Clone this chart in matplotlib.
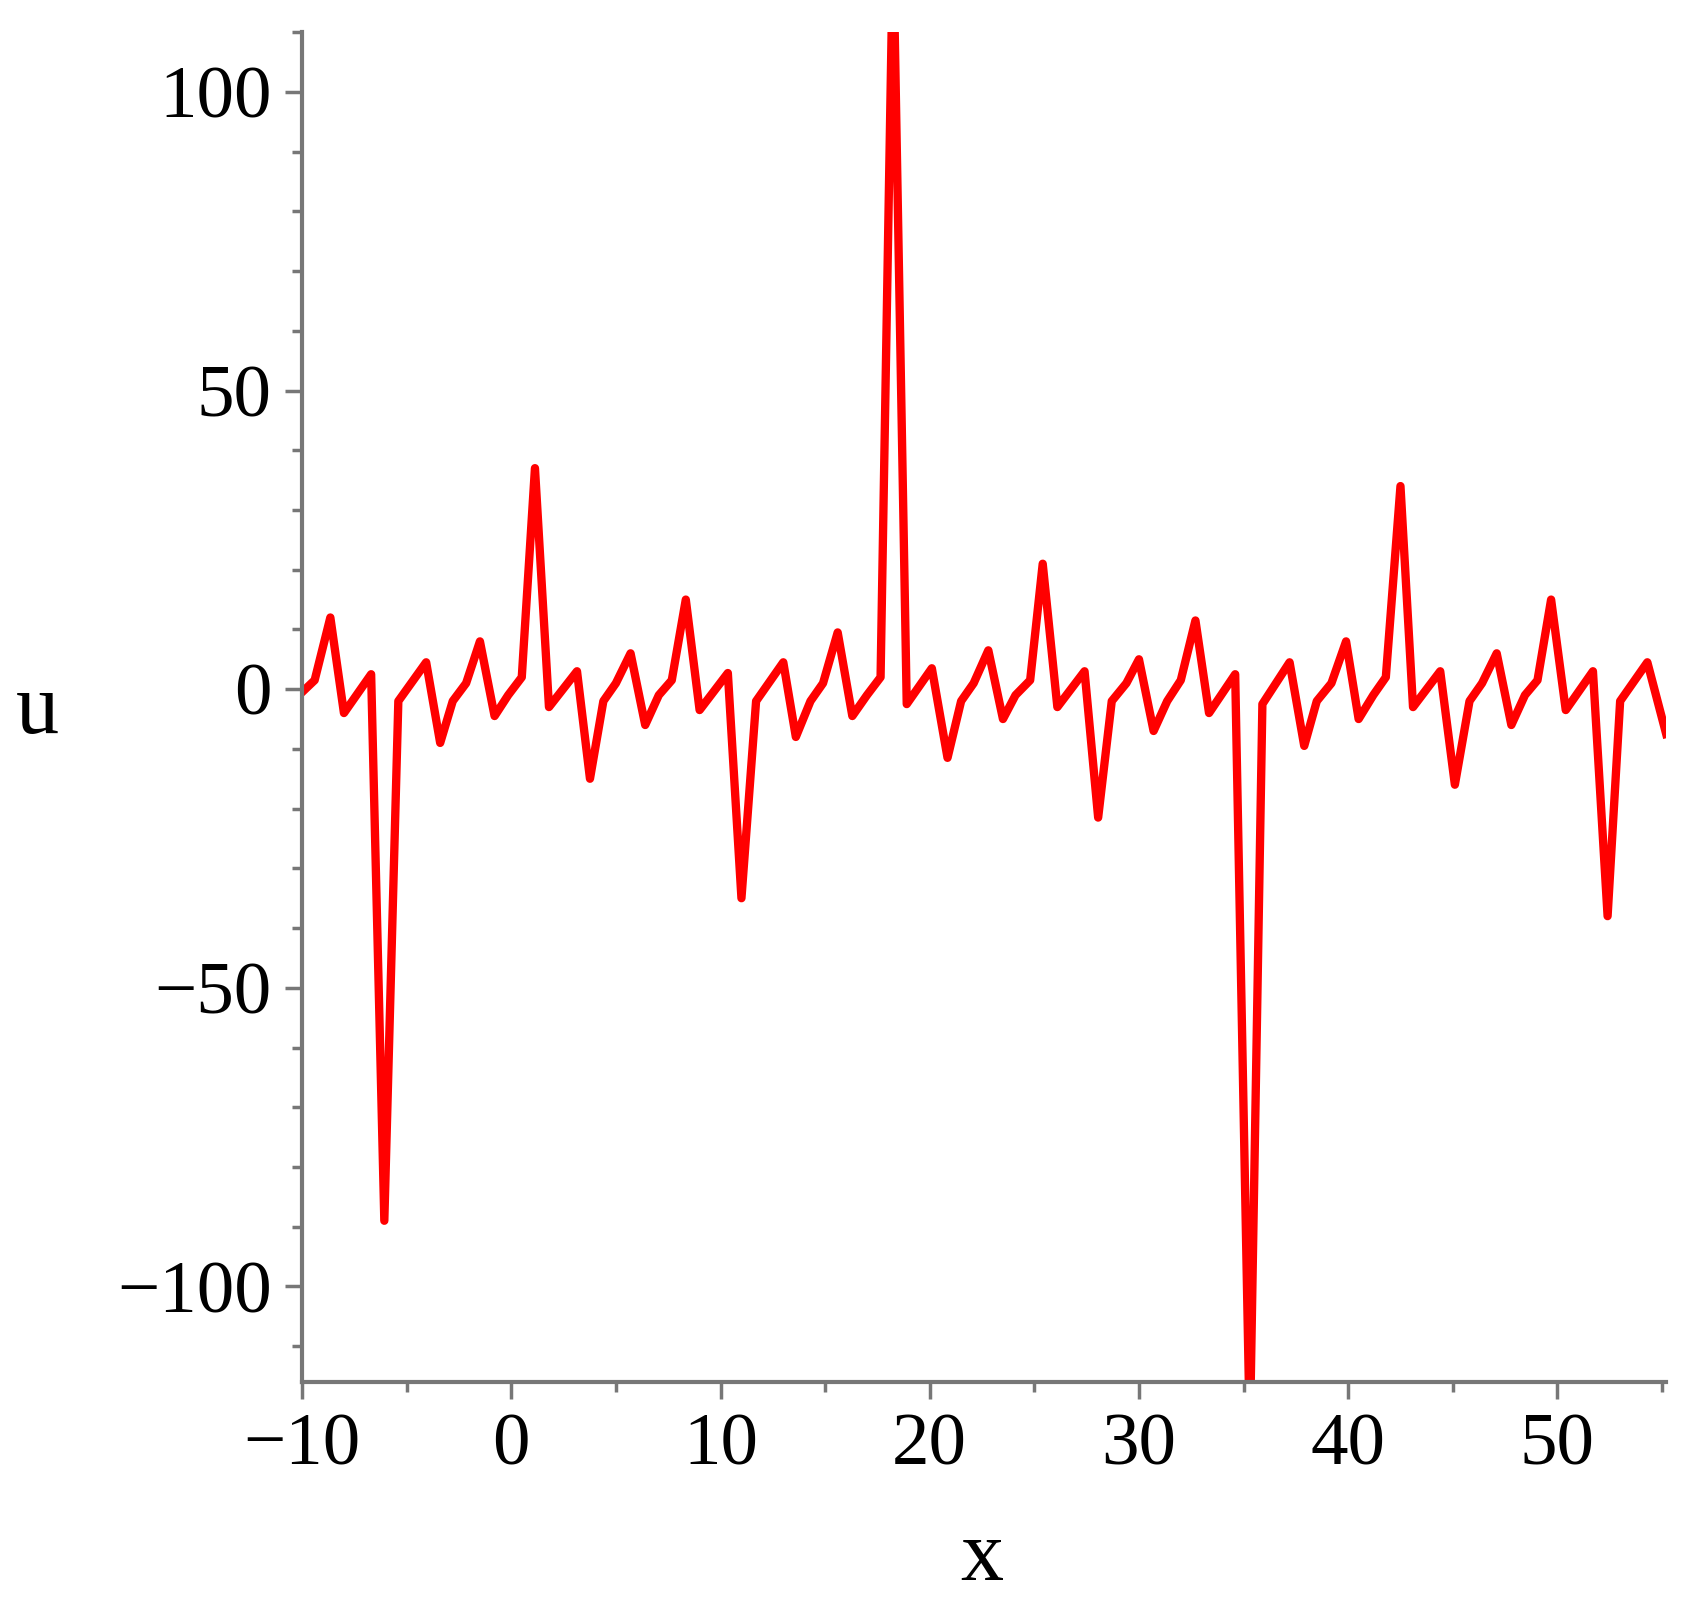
import matplotlib.pyplot as plt
from matplotlib.ticker import MultipleLocator

x = [-10, -9.4, -8.65, -8.0, -6.7, -6.07, -5.4, -4.07, -3.4, -2.8, -2.16, -1.5, -0.8, -0.15,
     0.5, 1.13, 1.8, 3.14, 3.76, 4.4, 5.0, 5.7, 6.4, 7.05, 7.67, 8.34, 9.0, 10.35, 11.0, 11.7,
     13.0, 13.6, 14.3, 14.9, 15.6, 16.3, 17.0, 17.65, 18.25, 18.9, 20.1, 20.85, 21.5, 22.1,
     22.8, 23.5, 24.1, 24.8, 25.4, 26.1, 27.4, 28.05, 28.7, 29.4, 30.0, 30.7, 31.35, 32.0,
     32.7, 33.35, 34.6, 35.3, 35.9, 37.2, 37.9, 38.5, 39.2, 39.9, 40.5, 41.2, 41.8, 42.5,
     43.1, 44.4, 45.1, 45.8, 46.4, 47.1, 47.8, 48.45, 49.05, 49.7, 50.4, 51.7, 52.4, 53.0,
     54.3, 55.2]
u = [-0.5, 1.5, 12, -4, 2.5, -89, -2, 4.5, -9, -2, 1, 8, -4.5, -1,
     2, 37, -3, 3, -15, -2, 1, 6, -6, -1, 1.5, 15, -3.5, 2.7, -35, -2,
     4.5, -8, -2, 1, 9.5, -4.5, -1, 2, 125, -2.5, 3.5, -11.5, -2, 1,
     6.5, -5, -1, 1.5, 21, -3, 3, -21.5, -2, 1, 5, -7, -2, 1.5,
     11.5, -4, 2.5, -125, -2.5, 4.5, -9.5, -2, 1, 8, -5, -1, 2, 34,
     -3, 3, -16, -2, 1, 6, -6, -1, 1.5, 15, -3.5, 3, -38, -2,
     4.5, -7.5]

plt.rcParams['font.family'] = ['Liberation Serif']
fig = plt.figure(figsize=(16.83, 16.07), dpi=100)
ax = fig.add_axes([0.1795, 0.140, 0.8105, 0.840])
ax.plot(x, u, color='red', lw=6, clip_on=True)
ax.set_xlim(-10, 55.2)
ax.set_ylim(-116, 110)
for s in ['top', 'right']:
    ax.spines[s].set_visible(False)
for s in ['left', 'bottom']:
    ax.spines[s].set_color('#777777')
    ax.spines[s].set_linewidth(3)
ax.xaxis.set_major_locator(MultipleLocator(10))
ax.xaxis.set_minor_locator(MultipleLocator(5))
ax.yaxis.set_major_locator(MultipleLocator(50))
ax.yaxis.set_minor_locator(MultipleLocator(10))
ax.tick_params(which='major', length=12, width=2.5, color='#777777', labelsize=54, pad=10)
ax.tick_params(which='minor', length=7, width=2.5, color='#777777')
ax.set_xticks([-10, 0, 10, 20, 30, 40, 50])
ax.set_xticklabels(['\u221210', '0', '10', '20', '30', '40', '50'])
ax.set_yticks([-100, -50, 0, 50, 100])
ax.set_yticklabels(['\u2212100', '\u221250', '0', '50', '100'])
fig.text(35 / 1560, 1 - 660 / 1489, 'u', fontsize=62, ha='center', va='center')
fig.text(910 / 1560, 1 - 1445 / 1489, 'x', fontsize=62, ha='center', va='center')
fig.savefig('out.png', dpi=100)
